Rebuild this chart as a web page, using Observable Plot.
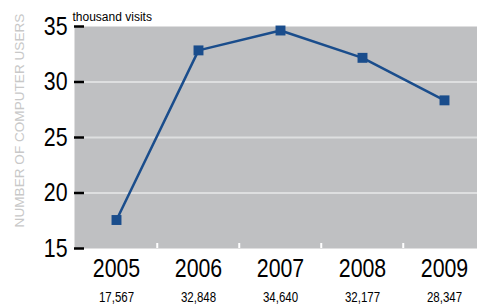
<!DOCTYPE html>
<html>
<head>
<meta charset="utf-8">
<script src="https://cdn.jsdelivr.net/npm/d3@7"></script>
<script src="https://cdn.jsdelivr.net/npm/@observablehq/plot@0.6"></script>
<style>
  html, body { margin: 0; padding: 0; background: #fff; overflow: hidden; }
  svg { overflow: hidden; }
</style>
</head>
<body>
<div id="chart"></div>
<script>
const years = ["2005", "2006", "2007", "2008", "2009"];
const visits = [17.567, 32.848, 34.640, 32.177, 28.347]; // thousand visits
const yTicks = [15, 20, 25, 30, 35];
const gridTicks = [20, 25, 30];

const data = years.map((year, i) => ({year, value: visits[i]}));
const fmt = d3.format(",");

const W = 477, H = 304, mL = 74, mR = -9.5, mT = 26, mB = 56;
const bw = (W - mL - mR) / years.length;
const sans = "'Liberation Sans', Arial, sans-serif";
const blue = "#1a4d8c";

const chart = Plot.plot({
  width: W,
  height: H,
  marginLeft: mL,
  marginRight: mR,
  marginTop: mT,
  marginBottom: mB,
  style: {background: "#fff", overflow: "hidden"},
  x: {type: "band", domain: years, padding: 0},
  y: {domain: [15, 35]},
  marks: [
    Plot.frame({fill: "#bfc0c2", stroke: null}),
    Plot.gridY(gridTicks, {stroke: "#dedfe0", strokeOpacity: 1, strokeWidth: 2}),
    Plot.ruleX(years.slice(1), {dx: -bw / 2, insetTop: 217, stroke: "#fff", strokeWidth: 2}),
    Plot.axisY(yTicks, {tickSize: 0, tickPadding: 7, fontSize: 26, fontFamily: sans, fill: "#000", label: null}),
    Plot.axisY(yTicks, {tickSize: 10, dx: 10, tickFormat: () => "", stroke: "#000", strokeWidth: 2.5, label: null}),
    Plot.axisX(years, {tickSize: 0, tickPadding: 10, fontSize: 26, fontFamily: sans, fill: "#000", label: null}),
    Plot.text(data, {x: "year", text: d => fmt(Math.round(d.value * 1000)), frameAnchor: "bottom", lineAnchor: "top", dy: 44, fontSize: 14, fontFamily: sans, fill: "#000"}),
    Plot.line(data, {x: "year", y: "value", stroke: blue, strokeWidth: 2.5}),
    Plot.dot(data, {x: "year", y: "value", symbol: "square", r: 5.6, fill: blue, stroke: null}),
    Plot.text(["thousand visits"], {frameAnchor: "top-left", textAnchor: "start", lineAnchor: "bottom", dx: -2, dy: -6, fontSize: 12, fontFamily: sans, fill: "#000"}),
    Plot.text(["NUMBER OF COMPUTER USERS"], {frameAnchor: "left", textAnchor: "middle", rotate: -90, dx: -55, dy: -17, fontSize: 13.6, fontFamily: sans, fill: "#c8c8c8"})
  ]
});
document.getElementById("chart").appendChild(chart);
// condense the numeric labels (reference uses a narrow typeface)
d3.select(chart).selectAll('g[font-size="26"] text, g[font-size="14"] text').each(function () {
  const len = this.getComputedTextLength();
  if (len > 0) {
    this.setAttribute("textLength", (len * 0.82).toFixed(2));
    this.setAttribute("lengthAdjust", "spacingAndGlyphs");
  }
});
</script>
</body>
</html>
